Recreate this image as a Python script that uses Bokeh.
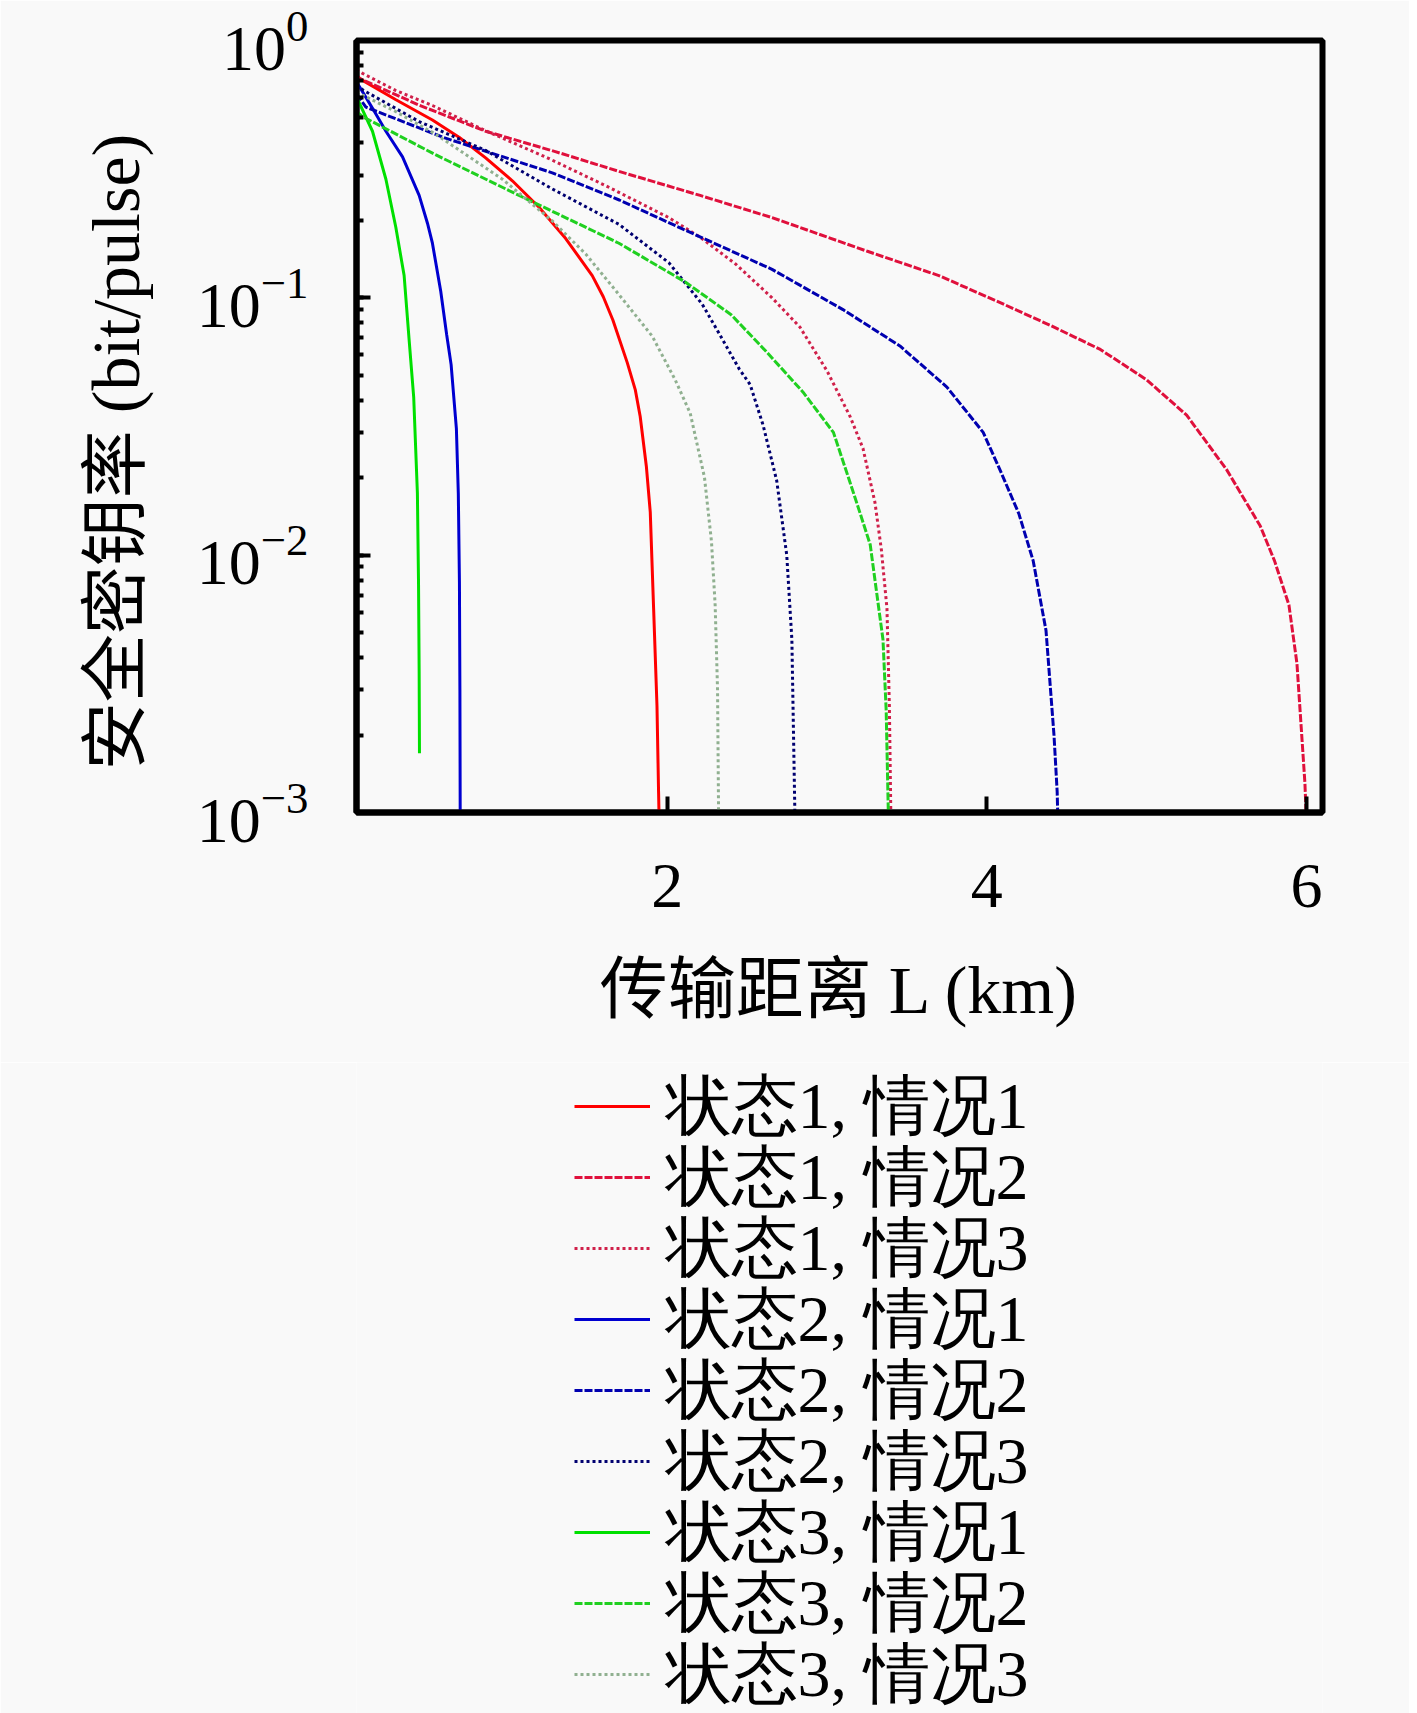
from bokeh.plotting import figure
from bokeh.models import Legend, LegendItem, FixedTicker, Range1d
from bokeh.layouts import column
from bokeh.embed import file_html
from bokeh.resources import INLINE

# ---- data (L in km, key rate in bit/pulse) ----
L_s1c1 = [0.056, 0.094, 0.30, 0.531, 0.70, 0.864, 1.031, 1.198, 1.365, 1.531, 1.60, 1.66, 1.75, 1.80, 1.831, 1.87, 1.894, 1.915, 1.936, 1.946, 1.95]
R_s1c1 = [0.73, 0.70, 0.59, 0.491, 0.42, 0.35, 0.285, 0.225, 0.170, 0.122, 0.101, 0.082, 0.056, 0.044, 0.0346, 0.022, 0.0147, 0.0062, 0.0026, 0.0012, 0.0009]

L_s1c2 = [0.056, 0.073, 0.45, 0.864, 1.30, 1.698, 2.206, 2.656, 3.248, 3.70, 4.08, 4.40, 4.71, 5.00, 5.25, 5.50, 5.71, 5.80, 5.89, 5.94, 5.97, 5.99, 6.00]
R_s1c2 = [0.73, 0.713, 0.56, 0.444, 0.37, 0.310, 0.25, 0.205, 0.152, 0.122, 0.096, 0.078, 0.063, 0.048, 0.035, 0.0215, 0.013, 0.0095, 0.0064, 0.0038, 0.0020, 0.0013, 0.0009]

L_s1c3 = [0.056, 0.094, 0.30, 0.531, 0.864, 1.25, 1.614, 2.01, 2.206, 2.43, 2.656, 2.83, 3.0, 3.144, 3.225, 3.30, 3.34, 3.375, 3.39, 3.40]
R_s1c3 = [0.77, 0.745, 0.64, 0.559, 0.446, 0.35, 0.273, 0.205, 0.172, 0.135, 0.100, 0.077, 0.052, 0.0346, 0.026, 0.016, 0.0105, 0.0062, 0.0026, 0.0009]

L_s2c1 = [0.056, 0.073, 0.16, 0.24, 0.344, 0.448, 0.50, 0.531, 0.583, 0.62, 0.648, 0.681, 0.693, 0.700, 0.703, 0.705]
R_s2c1 = [0.69, 0.664, 0.54, 0.444, 0.353, 0.25, 0.195, 0.163, 0.106, 0.072, 0.055, 0.031, 0.0174, 0.0079, 0.003, 0.0009]

L_s2c2 = [0.056, 0.115, 0.60, 1.281, 1.70, 2.115, 2.656, 3.10, 3.456, 3.75, 3.977, 4.08, 4.20, 4.29, 4.37, 4.42, 4.44, 4.445]
R_s2c2 = [0.62, 0.551, 0.42, 0.306, 0.24, 0.183, 0.129, 0.090, 0.065, 0.045, 0.030, 0.0216, 0.0145, 0.0095, 0.0051, 0.0020, 0.0012, 0.0009]

L_s2c3 = [0.056, 0.10, 0.448, 0.864, 1.281, 1.698, 2.01, 2.219, 2.323, 2.45, 2.519, 2.60, 2.685, 2.748, 2.78, 2.80]
R_s2c3 = [0.67, 0.64, 0.484, 0.374, 0.265, 0.193, 0.137, 0.0945, 0.073, 0.053, 0.046, 0.032, 0.0195, 0.010, 0.0047, 0.0009]

L_s3c1 = [0.056, 0.063, 0.156, 0.24, 0.302, 0.354, 0.385, 0.414, 0.437, 0.444, 0.448, 0.450]
R_s3c1 = [0.61, 0.59, 0.444, 0.289, 0.188, 0.122, 0.069, 0.041, 0.0174, 0.0079, 0.0035, 0.0017]

L_s3c2 = [0.056, 0.094, 0.55, 1.073, 1.40, 1.698, 2.115, 2.40, 2.623, 2.85, 3.04, 3.14, 3.20, 3.27, 3.35, 3.37, 3.385]
R_s3c2 = [0.53, 0.506, 0.36, 0.25, 0.20, 0.163, 0.115, 0.086, 0.0615, 0.043, 0.030, 0.0195, 0.015, 0.011, 0.0047, 0.0025, 0.0009]

L_s3c3 = [0.056, 0.30, 0.552, 0.969, 1.281, 1.49, 1.698, 1.906, 2.05, 2.144, 2.233, 2.277, 2.30, 2.315, 2.322]
R_s3c3 = [0.63, 0.53, 0.432, 0.289, 0.199, 0.148, 0.103, 0.071, 0.048, 0.0356, 0.0201, 0.0113, 0.0064, 0.003, 0.0009]

legend_labels = ["状态1, 情况1", "状态1, 情况2", "状态1, 情况3",
                 "状态2, 情况1", "状态2, 情况2", "状态2, 情况3",
                 "状态3, 情况1", "状态3, 情况2", "状态3, 情况3"]
x_ticks = [2, 4, 6]
x_label = "传输距离 L (km)"
y_label = "安全密钥率 (bit/pulse)\u00a0\u00a0\u00a0"

# ---- styles ----
series = [
    (L_s1c1, R_s1c1, "#ff0000", "solid"),
    (L_s1c2, R_s1c2, "#e0103c", "8 2"),
    (L_s1c3, R_s1c3, "#d0204a", "3 3"),
    (L_s2c1, R_s2c1, "#0000d0", "solid"),
    (L_s2c2, R_s2c2, "#0000b0", "8 2"),
    (L_s2c3, R_s2c3, "#000070", "3 3"),
    (L_s3c1, R_s3c1, "#00e000", "solid"),
    (L_s3c2, R_s3c2, "#20d020", "8 2"),
    (L_s3c3, R_s3c3, "#90b090", "3 3"),
]

FONT = "Liberation Serif, Noto Sans CJK SC"
LEGEND_FONT = "Liberation Serif"
BG = "#f9f9f9"
W = 1409
H_MAIN = 1062
H_LEG = 651

# ---------------- main chart ----------------
p = figure(width=W, height=H_MAIN, y_axis_type="log",
           x_range=Range1d(0.056, 6.1), y_range=Range1d(1e-3, 1.0),
           output_backend="svg", toolbar_location=None,
           min_border_left=356, min_border_right=87,
           min_border_top=40, min_border_bottom=250)
p.background_fill_color = BG
p.border_fill_color = BG
p.grid.visible = False
p.outline_line_color = "black"
p.outline_line_width = 6

for xs, ys, col, dash in series:
    p.line(xs, ys, line_color=col, line_width=3, line_dash=dash)

for ax in (p.xaxis[0], p.yaxis[0]):
    ax.axis_line_width = 6
    ax.axis_line_color = "black"
    ax.major_tick_out = 0
    ax.minor_tick_out = 0
    ax.major_tick_line_width = 4
    ax.minor_tick_line_width = 4
    ax.major_label_text_font = FONT
    ax.major_label_text_font_size = "64px"
    ax.major_label_text_color = "black"
    ax.axis_label_text_font = FONT
    ax.axis_label_text_font_size = "68px"
    ax.axis_label_text_font_style = "normal"
    ax.axis_label_text_color = "black"

p.xaxis[0].ticker = FixedTicker(ticks=x_ticks)
p.xaxis[0].major_tick_in = 16
p.xaxis[0].minor_tick_line_color = None
p.xaxis[0].major_label_standoff = 52
p.xaxis[0].axis_label = x_label
p.xaxis[0].axis_label_standoff = 42

p.yaxis[0].major_tick_in = 14
p.yaxis[0].minor_tick_in = 7
p.yaxis[0].major_label_standoff = 48
p.yaxis[0].axis_label = y_label
p.yaxis[0].axis_label_standoff = 40

# ---------------- legend block ----------------
# same borders as the main chart (column aligns frames); the series are drawn
# here only so the legend has glyphs; this x range keeps them out of view.
q = figure(width=W, height=H_LEG, x_range=Range1d(-2, -1), y_range=Range1d(0, 1),
           output_backend="svg", toolbar_location=None,
           x_axis_location=None, y_axis_location=None,
           min_border_left=356, min_border_right=87,
           min_border_top=0, min_border_bottom=0)
q.background_fill_color = BG
q.border_fill_color = BG
q.outline_line_color = None
q.grid.visible = False

LEG_FS = 66
ITEM_H = 1.37 * LEG_FS     # label box height Bokeh measures for this font
ROW0 = 43.6                # centre of the first row below the block's top
ROW = 71                   # row pitch

for k, (lab, (xs, ys, col, dash)) in enumerate(zip(legend_labels, series)):
    r = q.line(xs, ys, line_color=col, line_width=3, line_dash=dash)
    centre = ROW0 + k * ROW
    leg = Legend(items=[LegendItem(label=lab, renderers=[r])],
                 location=(217.6, H_LEG - centre - ITEM_H / 2))
    leg.padding = 0
    leg.margin = 0
    leg.spacing = 0
    leg.label_height = 40
    leg.glyph_height = 40
    leg.glyph_width = 76
    leg.label_standoff = 16
    leg.label_text_font = LEGEND_FONT
    leg.label_text_font_size = f"{LEG_FS}px"
    leg.label_text_color = "black"
    leg.border_line_color = None
    leg.background_fill_alpha = 0
    q.add_layout(leg)

layout = column(p, q, spacing=0)
open("out.html", "w").write(file_html(layout, INLINE))
